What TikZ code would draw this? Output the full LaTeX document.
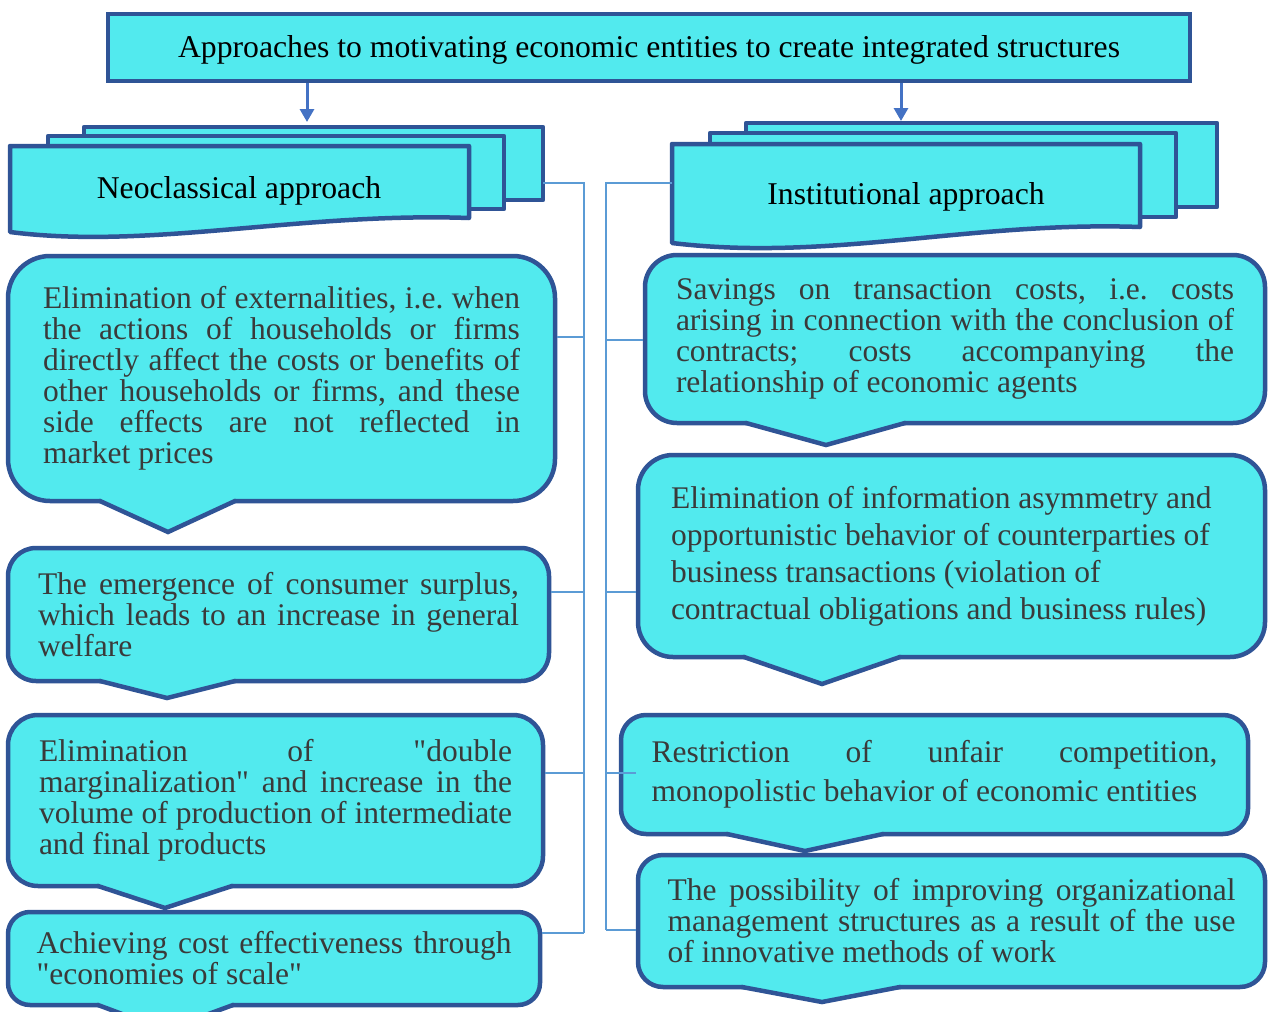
\documentclass[tikz,border=0pt]{standalone}
\usepackage{fontspec}
\setmainfont{Liberation Serif}
\usetikzlibrary{arrows.meta,calc}
\definecolor{bord}{HTML}{2F5496}
\definecolor{cyanf}{HTML}{52EAEE}
\definecolor{arrc}{HTML}{4472C4}
\definecolor{busc}{HTML}{5B9BD5}
\definecolor{txtc}{HTML}{3A3A3A}
\newcommand{\jl}[2]{\makebox[#1pt][s]{\spaceskip=0pt\xspaceskip=0pt\relax #2}}
\newcommand{\qd}{\textquotedbl}
\frenchspacing
\begin{document}
\begin{tikzpicture}[x=1pt,y=-1pt,
  callout/.style={draw=bord, fill=cyanf, line width=4.5, inner sep=0pt, align=flush left, text=txtc, font=\fontsize{31.5}{31}\selectfont\frenchspacing},
  ptrline/.style={draw=bord, line width=4.5, line join=miter, line cap=round},
  hdr/.style={draw=bord, fill=cyanf, line width=4.5, line join=round},
  hdrtext/.style={font=\fontsize{31.7}{36}\selectfont, text=black, inner sep=0pt},
  bus/.style={draw=busc, line width=2.5},
  arr/.style={draw=arrc, line width=3, -{Triangle[width=14,length=13]}}
]
\useasboundingbox[fill=white] (0,0) rectangle (1270,1012);

% title
\node[draw=bord, fill=cyanf, line width=4.5, minimum width=1082, minimum height=67, inner sep=0pt, font=\fontsize{31.7}{36}\selectfont] (top) at (649,47.5) {\raisebox{-2.5pt}[\height][\depth]{Approaches to motivating economic entities to create integrated structures}};

% left header stack
\draw[hdr] (84,127) rectangle (543,200);
\draw[hdr] (48,136) rectangle (504,209);
\draw[hdr] (10,146) -- (469,146) -- (469,218) .. controls (300,212) and (150,250) .. (10,232) -- cycle;
\node[hdrtext] (neo) at (239,191) {Neoclassical approach};

% right header stack
\draw[hdr] (746,123) rectangle (1217,207);
\draw[hdr] (710,133) rectangle (1176,217);
\draw[hdr] (672,144) -- (1140,144) -- (1140,227) .. controls (970,221) and (830,262) .. (672,243) -- cycle;
\node[hdrtext] (inst) at (906,197) {Institutional approach};

% arrows
\coordinate (tipL) at (307,122);
\coordinate (tipR) at (901,121);
\draw[arr] (top.south -| tipL) -- (tipL);
\draw[arr] (top.south -| tipR) -- (tipR);

% left callouts
\node[callout, rounded corners=42, minimum width=547, minimum height=245, text width=477] (l1) at (281.5,378.5)
 {\jl{477}{Elimination of externalities, i.e. when}\\ \jl{477}{the actions of households or firms}\\ \jl{477}{directly affect the costs or benefits of}\\ \jl{477}{other households or firms, and these}\\ \jl{477}{side effects are not reflected in}\\ market prices};
\fill[cyanf] (101,497) -- (101,501) -- (168,532) -- (234,501) -- (234,497) -- cycle;
\draw[ptrline] (100,501) -- (168,532) -- (235,501);

\node[callout, rounded corners=28, minimum width=541, minimum height=133, text width=481] (l2) at (278.5,614.5)
 {\jl{481}{The emergence of consumer surplus,}\\ \jl{481}{which leads to an increase in general}\\ welfare};
\fill[cyanf] (101,677) -- (101,681) -- (167,698) -- (234,681) -- (234,677) -- cycle;
\draw[ptrline] (100,681) -- (167,698) -- (235,681);

\node[callout, rounded corners=30, minimum width=535, minimum height=171, text width=473] (l3) at (275.5,800.5)
 {\jl{473}{Elimination of \qd double}\\ \jl{473}{marginalization\qd{} and increase in the}\\ \jl{473}{volume of production of intermediate}\\ and final products};
\fill[cyanf] (99,882) -- (99,886) -- (165,908) -- (231,886) -- (231,882) -- cycle;
\draw[ptrline] (98,886) -- (165,908) -- (232,886);

\node[callout, rounded corners=22, minimum width=532, minimum height=93, text width=475] (l4) at (274,958.5)
 {\jl{475}{Achieving cost effectiveness through}\\ \qd economies of scale\qd};
\fill[cyanf] (99,1001) -- (99,1005) -- (165,1030) -- (232,1005) -- (232,1001) -- cycle;
\draw[ptrline] (98,1005) -- (165,1030) -- (233,1005);

% right callouts
\node[callout, rounded corners=32, minimum width=620, minimum height=168, text width=558] (r1) at (955,339)
 {\jl{558}{Savings on transaction costs, i.e. costs}\\ \jl{558}{arising in connection with the conclusion of}\\ \jl{558}{contracts; costs accompanying the}\\ relationship of economic agents};
\fill[cyanf] (747,419) -- (747,423) -- (826,445) -- (904,423) -- (904,419) -- cycle;
\draw[ptrline] (746,423) -- (826,445) -- (905,423);

\node[callout, rounded corners=35, minimum width=627, minimum height=202, text width=561, font=\fontsize{31.5}{37}\selectfont] (r2) at (951.5,556)
 {Elimination of information asymmetry and\\ opportunistic behavior of counterparties of\\ business transactions (violation of\\ contractual obligations and business rules)};
\fill[cyanf] (745,653) -- (745,657) -- (822,684) -- (899,657) -- (899,653) -- cycle;
\draw[ptrline] (744,657) -- (822,684) -- (900,657);

\node[callout, rounded corners=25, minimum width=627, minimum height=119, text width=566, font=\fontsize{31.5}{39}\selectfont] (r3) at (934.5,774.5)
 {\jl{566}{Restriction of unfair competition,}\\ monopolistic behavior of economic entities};
\fill[cyanf] (728,830) -- (728,834) -- (805,851) -- (882,834) -- (882,830) -- cycle;
\draw[ptrline] (727,834) -- (805,851) -- (883,834);

\node[callout, rounded corners=25, minimum width=627, minimum height=132, text width=568] (r4) at (951.5,921)
 {\jl{568}{The possibility of improving organizational}\\ \jl{568}{management structures as a result of the use}\\ of innovative methods of work};
\fill[cyanf] (743,983) -- (743,987) -- (822,1002) -- (899,987) -- (899,983) -- cycle;
\draw[ptrline] (742,987) -- (822,1002) -- (900,987);

% left bus
\coordinate (neoR) at (543,183);
\coordinate (lb0) at (584,183);
\coordinate (lb1) at (584,337);
\coordinate (lb2) at (584,592);
\coordinate (lb3) at (584,773);
\coordinate (lb4) at (584,933);
\draw[bus] (neoR) -- (lb0) -- (lb4);
\draw[bus] (l1.east |- lb1) -- (lb1);
\draw[bus] (l2.east |- lb2) -- (lb2);
\draw[bus] (l3.east |- lb3) -- (lb3);
\draw[bus] (l4.east |- lb4) -- (lb4);

% right bus
\coordinate (instL) at (672,183);
\coordinate (rb0) at (606,183);
\coordinate (rb1) at (606,340);
\coordinate (rb2) at (606,592);
\coordinate (rb3) at (606,773);
\coordinate (rb4) at (606,930);
\draw[bus] (instL) -- (rb0) -- (rb4);
\draw[bus] (rb1) -- (r1.west |- rb1);
\draw[bus] (rb2) -- (r2.west |- rb2);
\draw[bus] (rb3) -- ($(r3.west |- rb3)+(17,0)$);
\draw[bus] (rb4) -- (r4.west |- rb4);
\end{tikzpicture}
\end{document}
